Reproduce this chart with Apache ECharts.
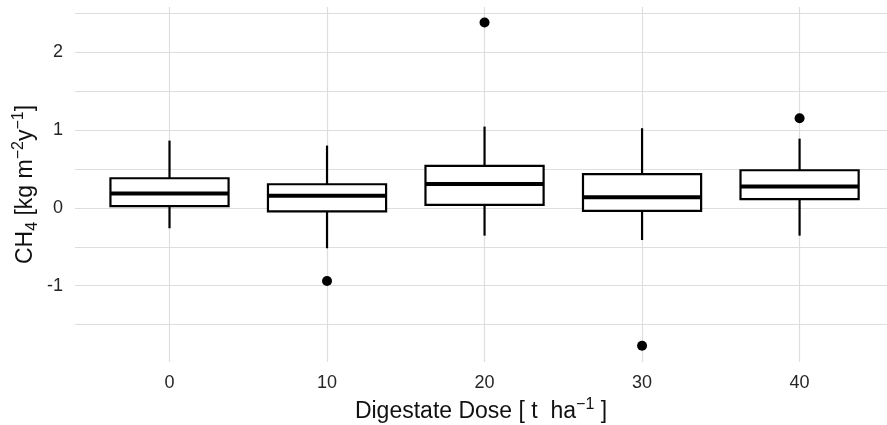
<!DOCTYPE html>
<html>
<head>
<meta charset="utf-8">
<script src="https://cdn.jsdelivr.net/npm/echarts@6/dist/echarts.min.js"></script>
<style>
html,body{margin:0;padding:0;background:#fff;}
#chart{width:887px;height:425px;}
</style>
</head>
<body>
<div id="chart"></div>
<script>
// ---- data ----
const doses = ['0', '10', '20', '30', '40'];
const whiskerLow  = [-0.262, -0.519, -0.357, -0.413, -0.357];
const q1          = [ 0.021, -0.044,  0.037, -0.040,  0.111];
const median      = [ 0.183,  0.157,  0.307,  0.136,  0.273];
const q3          = [ 0.380,  0.303,  0.539,  0.432,  0.483];
const whiskerHigh = [ 0.864,  0.800,  1.044,  1.023,  0.889];
const outlierDose  = ['10', '20', '30', '40'];
const outlierValue = [-0.94, 2.38, -1.771, 1.152];
const yTickLabels = [-1, 0, 1, 2];
const yGridValues = [-1.5, -1, -0.5, 0, 0.5, 1, 1.5, 2, 2.5];

const boxData = doses.map((d, i) => [i, whiskerLow[i], q1[i], median[i], q3[i], whiskerHigh[i]]);
const outlierData = outlierDose.map((d, i) => [doses.indexOf(d), outlierValue[i]]);
const xIdx = doses.map((d, i) => i);

const chart = echarts.init(document.getElementById('chart'), null, {renderer: 'canvas'});
const FONT = 'Liberation Sans, Arial, Helvetica, sans-serif';
const gridColor = '#dedede';

chart.setOption({
  animation: false,
  backgroundColor: '#ffffff',
  grid: {left: 75, top: 7, width: 812, height: 355, containLabel: false, outerBoundsMode: 'none'},
  xAxis: {
    type: 'value', min: -0.6, max: 4.555,
    axisLine: {show: false},
    axisTick: {show: false, customValues: xIdx},
    splitLine: {show: true, lineStyle: {color: gridColor, width: 1.2}},
    axisLabel: {
      customValues: xIdx, margin: 12, fontSize: 18, color: '#262626', fontFamily: FONT,
      formatter: v => doses[Math.round(v)]
    },
    name: 'Digestate Dose [ t  ha{sup|−1} ]',
    nameLocation: 'middle', nameGap: 32,
    nameTextStyle: {
      fontSize: 23, color: '#111', fontFamily: FONT, lineHeight: 30,
      rich: {sup: {fontSize: 16, lineHeight: 16, verticalAlign: 'top', color: '#111', fontFamily: FONT}}
    }
  },
  yAxis: {
    type: 'value', min: -1.98, max: 2.58,
    axisLine: {show: false},
    axisTick: {show: false, customValues: yGridValues},
    splitLine: {show: true, lineStyle: {color: gridColor, width: 1.2}},
    axisLabel: {
      customValues: yTickLabels, margin: 12, fontSize: 18, color: '#262626', fontFamily: FONT,
      formatter: v => String(Math.round(v))
    },
    name: '{n|CH}{sub|4}{n| [kg m}{sup|−2}{n|y}{sup|−1}{n|]}',
    nameLocation: 'middle', nameGap: 34, nameMoveOverlap: false,
    nameTextStyle: {
      fontSize: 23, color: '#111', fontFamily: FONT,
      rich: {
        n: {fontSize: 23, lineHeight: 30, color: '#111', fontFamily: FONT},
        sub: {fontSize: 16, lineHeight: 16, verticalAlign: 'bottom', color: '#111', fontFamily: FONT},
        sup: {fontSize: 16, lineHeight: 16, verticalAlign: 'top', color: '#111', fontFamily: FONT}
      }
    }
  },
  series: [
    {
      type: 'custom',
      data: boxData,
      encode: {x: 0, y: [1, 2, 3, 4, 5]},
      renderItem: function (params, api) {
        const x = api.value(0);
        const pLow = api.coord([x, api.value(1)]);
        const pQ1 = api.coord([x, api.value(2)]);
        const pMed = api.coord([x, api.value(3)]);
        const pQ3 = api.coord([x, api.value(4)]);
        const pHigh = api.coord([x, api.value(5)]);
        const half = api.size([0.75, 0])[0] / 2;
        const cx = pMed[0];
        return {
          type: 'group',
          children: [
            {type: 'line', shape: {x1: cx, y1: pHigh[1], x2: cx, y2: pQ3[1]}, style: {stroke: '#000', lineWidth: 2.2}},
            {type: 'line', shape: {x1: cx, y1: pQ1[1], x2: cx, y2: pLow[1]}, style: {stroke: '#000', lineWidth: 2.2}},
            {type: 'rect', shape: {x: cx - half, y: pQ3[1], width: half * 2, height: pQ1[1] - pQ3[1]},
             style: {fill: '#fff', stroke: '#000', lineWidth: 2.2}},
            {type: 'line', shape: {x1: cx - half, y1: pMed[1], x2: cx + half, y2: pMed[1]}, style: {stroke: '#000', lineWidth: 4}}
          ]
        };
      }
    },
    {
      type: 'scatter',
      data: outlierData,
      symbol: 'circle', symbolSize: 10,
      itemStyle: {color: '#000', opacity: 1}
    }
  ]
});
</script>
</body>
</html>
